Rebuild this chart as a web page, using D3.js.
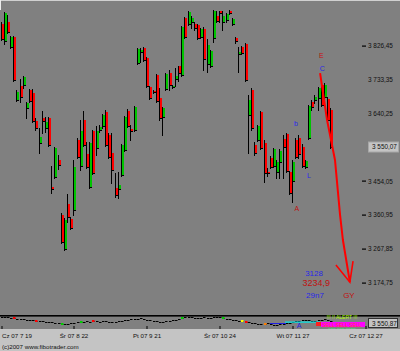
<!DOCTYPE html>
<html><head><meta charset="utf-8">
<script src="https://cdn.jsdelivr.net/npm/d3@7"></script>
<style>html,body{margin:0;padding:0;background:#808080;overflow:hidden}svg{display:block}text{font-family:"Liberation Sans",Arial,sans-serif}</style>
</head><body><svg id="c" width="400" height="351"></svg>
<script>
// ---- data (WIG20-like daily candles, Jul-Dec 2007) ----
const opens = [3887,3840,3893,3824,3851,3678,3717,3719,3656,3706,
3697,3620,3560,3629,3601,3629,3439,3466,3513,3362,
3268,3392,3351,3376,3568,3497,3623,3530,3439,3593,
3546,3596,3607,3645,3582,3532,3436,3433,3472,3541,
3648,3598,3596,3780,3810,3821,3794,3714,3703,3747,
3684,3631,3708,3752,3714,3736,3772,3747,3904,3887,
3893,3887,3884,3851,3873,3777,3772,3849,3909,3923,
3893,3898,3923,3887,3849,3805,3824,3832,3637,3706,
3554,3568,3645,3560,3480,3519,3497,3480,3508,3571,
3585,3480,3455,3568,3574,3549,3494,3574,3673,3678,
3684,3719,3686,3681,3651];
const highs = [3893,3920,3912,3854,3854,3706,3736,3744,3673,3708,
3708,3629,3601,3648,3631,3631,3497,3549,3527,3367,
3354,3420,3356,3513,3574,3623,3648,3563,3563,3596,
3607,3609,3640,3651,3587,3587,3477,3480,3557,3634,
3653,3609,3662,3821,3821,3824,3796,3717,3706,3750,
3711,3659,3752,3761,3719,3766,3772,3882,3906,3923,
3909,3893,3887,3876,3879,3846,3816,3926,3923,3923,
3923,3917,3926,3904,3851,3824,3827,3835,3692,3711,
3563,3609,3648,3568,3491,3524,3546,3513,3543,3582,
3587,3483,3513,3574,3582,3557,3513,3664,3678,3692,
3714,3725,3725,3686,3656];
const lows = [3843,3832,3862,3821,3730,3675,3673,3711,3629,3673,
3618,3596,3532,3587,3590,3552,3422,3464,3488,3285,
3266,3343,3323,3362,3519,3486,3552,3491,3436,3475,
3527,3590,3601,3552,3519,3450,3411,3409,3469,3538,
3604,3568,3593,3777,3783,3785,3714,3681,3697,3673,
3623,3582,3706,3706,3711,3717,3730,3744,3849,3884,
3876,3871,3846,3849,3761,3755,3769,3838,3893,3893,
3871,3893,3915,3884,3835,3755,3805,3730,3532,3596,
3527,3565,3543,3453,3469,3491,3494,3464,3464,3464,
3480,3420,3398,3519,3519,3494,3491,3571,3651,3670,
3651,3662,3678,3620,3546];
const closes = [3846,3917,3865,3851,3733,3700,3686,3741,3670,3675,
3620,3601,3576,3620,3618,3554,3433,3546,3499,3288,
3348,3356,3326,3494,3521,3593,3554,3494,3560,3477,
3593,3604,3637,3554,3521,3486,3417,3444,3554,3631,
3607,3593,3659,3818,3816,3788,3717,3684,3700,3675,
3629,3656,3750,3719,3717,3744,3752,3879,3851,3920,
3904,3876,3849,3873,3791,3829,3813,3923,3895,3917,
3909,3915,3917,3901,3840,3810,3807,3733,3678,3601,
3532,3607,3546,3477,3477,3494,3543,3508,3538,3549,
3483,3422,3508,3521,3530,3497,3510,3662,3659,3686,
3711,3664,3719,3623,3549];
// lower oscillator panel
const osc = [5,5,5,4,4,3,3,3,2,2,2,1,1,1,0,0,0,-1,-1,-2,
-2,-2,-1,-1,0,0,0,1,0,1,1,0,1,1,0,0,0,1,1,2,
2,3,3,3,4,3,2,2,1,1,0,0,1,1,2,2,3,4,5,5,
5,4,4,4,5,4,4,5,5,5,4,3,3,2,2,1,1,0,0,-1,
-1,-2,-2,-2,-1,-2,-3,-3,-2,-2,-1,-1,0,1,1,2,2,2,1,1,
2,2,3,2,1];
const signalIdx = [4,11,19,25,29,57,70,76,77,83];
const signalKind = ["sell","sell","buy","buy","sell","buy","buy","alert","sell","warn"];
// price axis
const tickPrices = [3826.45,3733.35,3640.25,3454.05,3360.95,3267.85,3174.75];
const levelPrices = [3733.35,3640.25];
const lastPrice = 3550.07;
// date axis
const dateTickIdx = [0,23,46,69,92,115];
const dateLabels = ["Cz 07 7 19","Śr 07 8 22","Pt 07 9 21","Śr 07 10 24","Wt 07 11 27","Cz 07 12 27"];
// wave annotations
const waveText = ["E","C","b","L","A"];
const waveIdx = [100.9,101.2,92.9,97,93.2];
const wavePrice = [3802,3766,3615,3472,3381];
const waveKind = ["dn","up","up","up","dn"];
// projected target path
const pathIdx = [100.5,102.7,105.2,106.8,107.7,109.9];
const pathPrice = [3752,3623,3513,3362,3293,3177];
const headIdx = [105.5,109.9,110.9];
const headPrice = [3224,3177,3235];
const noteText = ["3128","3234,9","29n7","GY"];
const noteIdx = [98.6,99.3,98.9,109.6];
const notePrice = [3205,3175,3142,3142];
const noteKind = ["up","dn","up","dn"];
const copyright = "(c)2007 www.fibotrader.com";
const panelValue = "3 550,87";

// ---- drawing ----
const svg = d3.select('#c');
const plotBottom = 315;
const x = d3.scaleLinear().domain([0,104]).range([1.5,1.5+3.17*104]);
const y = d3.scaleLinear().domain([3953-2.75*plotBottom,3953]).range([plotBottom,0]);
const oy = d3.scaleLinear().domain([-6,6]).range([328,316]);
const fmt = v => { const s=v.toFixed(2).split('.'); return s[0].slice(0,1)+' '+s[0].slice(1)+','+s[1]; };

svg.append('rect').attr('width',400).attr('height',351).attr('fill','#808080');
svg.append('rect').attr('x',0).attr('y',0).attr('width',400).attr('height',1).attr('fill','#d0d0d0');
svg.append('rect').attr('x',0).attr('y',0).attr('width',1).attr('height',10).attr('fill','#ececec');

// candles
const gc = svg.append('g');
opens.forEach((o,i)=>{
  const c=closes[i], x0=Math.round(x(i))-1;
  const yh=Math.round(y(highs[i])), yl=Math.round(y(lows[i]));
  const yt=Math.round(y(Math.max(o,c))), yb=Math.round(y(Math.min(o,c)));
  gc.append('rect').attr('x',x0).attr('y',yh).attr('width',1).attr('height',Math.max(1,yl-yh+1)).attr('fill','#000');
  gc.append('rect').attr('x',x0).attr('y',yt).attr('width',3).attr('height',1).attr('fill','#000');
  gc.append('rect').attr('x',x0).attr('y',yb).attr('width',3).attr('height',1).attr('fill','#000');
  gc.append('rect').attr('x',x0+1).attr('y',yt).attr('width',2).attr('height',Math.max(1,yb-yt)).attr('fill',c>=o?'#00c400':'#ff0000');
});

// right price labels
const ga = svg.append('g');
tickPrices.forEach(v=>{
  const yy=y(v);
  if(!levelPrices.includes(v)) ga.append('rect').attr('x',362).attr('y',Math.round(yy)-0.5).attr('width',4).attr('height',1.2).attr('fill','#000');
  ga.append('text').attr('x',368).attr('y',yy+2.2).attr('font-size',6.4).attr('fill','#101010').text(fmt(v));
});
const yl = y(lastPrice);
ga.append('rect').attr('x',368.5).attr('y',yl-4.5).attr('width',30).attr('height',10).attr('fill','#c4c4c4').attr('stroke','#a8a8a8');
ga.append('text').attr('x',372).attr('y',yl+2.8).attr('font-size',6.4).attr('fill','#101010').text(fmt(lastPrice));

// projected path
const line = d3.line().x(d=>x(d[0])).y(d=>y(d[1]));
svg.append('path').attr('d',line(pathIdx.map((d,i)=>[d,pathPrice[i]]))).attr('fill','none').attr('stroke','#ff0000').attr('stroke-width',2);
svg.append('path').attr('d',line(headIdx.map((d,i)=>[d,headPrice[i]]))).attr('fill','none').attr('stroke','#ff0000').attr('stroke-width',1.6);

// wave labels & notes
const kindColor = {up:'#2828e8',dn:'#c01010'};
waveText.forEach((t,i)=>{
  svg.append('text').attr('x',x(waveIdx[i])).attr('y',y(wavePrice[i])+3).attr('text-anchor','middle')
    .attr('font-size',7).attr('fill',kindColor[waveKind[i]]).text(t);
});
noteText.forEach((t,i)=>{
  svg.append('text').attr('x',x(noteIdx[i])).attr('y',y(notePrice[i])+3.5).attr('text-anchor','middle')
    .attr('font-size',i===1?9:8).attr('fill',kindColor[noteKind[i]]).text(t);
});

// lower panel
svg.append('rect').attr('x',0).attr('y',315).attr('width',400).attr('height',1.6).attr('fill','#000');
const go = svg.append('g');
osc.forEach((v,i)=>{
  go.append('rect').attr('x',Math.round(x(i))-1).attr('y',Math.round(oy(v))).attr('width',2.5).attr('height',1).attr('fill','#000');
});
const sigColor = {buy:'#00d000',sell:'#ff0000',alert:'#ffff00',warn:'#ff8000'};
signalIdx.forEach((s,k)=>{
  go.append('rect').attr('x',Math.round(x(s))-1).attr('y',Math.round(oy(osc[s]))-1).attr('width',2.5).attr('height',2).attr('fill',sigColor[signalKind[k]]);
});
// dense signal cluster at the right of the panel
go.append('rect').attr('x',285).attr('y',321.5).attr('width',35).attr('height',1.2).attr('fill','#00e8e8');
go.append('rect').attr('x',270).attr('y',323).attr('width',16).attr('height',1).attr('fill','#2020e0');
go.append('text').attr('x',299).attr('y',328).attr('text-anchor','middle').attr('font-size',7).attr('fill','#2020e0').text('A');
go.append('rect').attr('x',316).attr('y',322).attr('width',6).attr('height',4).attr('fill','#ff2020');
go.append('rect').attr('x',321).attr('y',322).attr('width',44).attr('height',5).attr('fill','#ff00ff');
go.append('text').attr('x',342).attr('y',318.5).attr('text-anchor','middle').attr('font-size',5).attr('fill','#b0ff00').text('!!! !! ALERT !!!');
go.append('text').attr('x',342).attr('y',326.5).attr('text-anchor','middle').attr('font-size',5).attr('fill','#ff4040').text('SELL SELL SELL');
go.append('text').attr('x',342).attr('y',330.5).attr('text-anchor','middle').attr('font-size',4.5).attr('fill','#40ff80').text('ooo ooo oooo');
go.append('rect').attr('x',368.5).attr('y',318.5).attr('width',29).attr('height',9).attr('fill','#c4c4c4').attr('stroke','#303030');
go.append('text').attr('x',372).attr('y',325.5).attr('font-size',6.4).attr('fill','#101010').text(panelValue);

// date axis band
svg.append('rect').attr('x',0).attr('y',329).attr('width',400).attr('height',22).attr('fill','#c4c4c4');
const gd = svg.append('g');
dateTickIdx.forEach((t,k)=>{
  const xx=Math.round(x(t));
  gd.append('rect').attr('x',Math.max(0,xx-0.5)).attr('y',326).attr('width',1).attr('height',3).attr('fill','#000');
  const tx=gd.append('text').attr('x',xx).attr('y',338).attr('font-size',6.2).attr('fill','#101010').attr('text-anchor','middle').text(dateLabels[k]);
  const w=tx.node().getComputedTextLength();
  if(xx-w/2<2) tx.attr('text-anchor','start').attr('x',2);
});
svg.append('text').attr('x',2).attr('y',349).attr('font-size',6.2).attr('fill','#101010').text(copyright);
</script></body></html>
